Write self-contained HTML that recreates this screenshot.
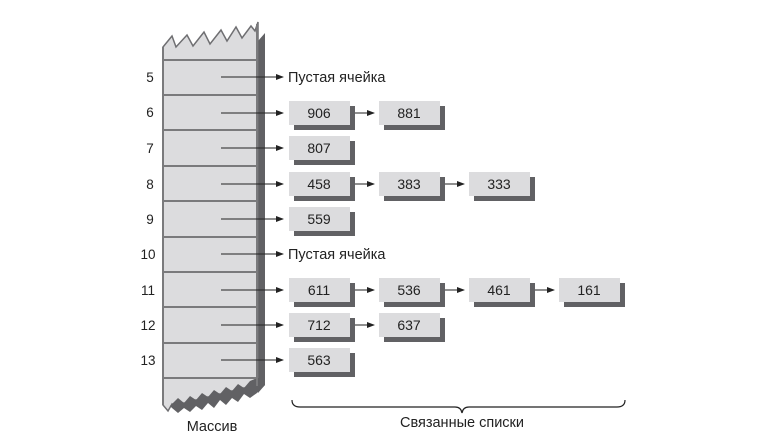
<!DOCTYPE html>
<html><head><meta charset="utf-8"><style>
html,body{margin:0;padding:0;background:#fff;}
svg{display:block;}
text{font-family:"Liberation Sans",sans-serif;fill:#222;}
</style></head><body>
<svg width="771" height="442" viewBox="0 0 771 442" xmlns="http://www.w3.org/2000/svg">
<defs>
<marker id="ah" markerWidth="8" markerHeight="8" refX="7" refY="4" orient="auto" markerUnits="userSpaceOnUse">
<path d="M0,1 L8,4 L0,7 Z" fill="#222"/>
</marker>
</defs>
<polygon points="258,41 265,33 265,385 258,393" fill="#616164"/>
<polygon points="163,47 172,36 176,47 187,35 193,46 204,32 210,44 221,30 227,41 236,27 242,38 251,26 255,31 258,22 258,386 250,393 244,388 238,396 232,391 226,399 220,394 214,402 208,397 202,405 196,400 190,408 184,403 178,410 172,404 168,411 163,405" fill="#dcdcde" stroke="#6f6f72" stroke-width="1.5"/>
<polygon points="170,406 178,398 184,403 190,396 196,400 202,393 208,397 214,390 220,394 226,387 232,391 238,384 244,388 250,381 257,378 265,378 265,385 257,393 250,398 244,394 238,402 232,398 226,405 220,400 214,408 208,403 202,410 196,406 190,412 184,408 178,413 172,408" fill="#616164"/>
<g stroke="#7a7a7c" stroke-width="2">
<line x1="163" y1="47" x2="163" y2="405"/>
<line x1="257" y1="24" x2="257" y2="386"/>
<line x1="163" y1="60" x2="257" y2="60"/>
<line x1="163" y1="95" x2="257" y2="95"/>
<line x1="163" y1="130" x2="257" y2="130"/>
<line x1="163" y1="166" x2="257" y2="166"/>
<line x1="163" y1="201" x2="257" y2="201"/>
<line x1="163" y1="237" x2="257" y2="237"/>
<line x1="163" y1="272" x2="257" y2="272"/>
<line x1="163" y1="307" x2="257" y2="307"/>
<line x1="163" y1="343" x2="257" y2="343"/>
<line x1="163" y1="378" x2="257" y2="378"/>
</g>
<g font-size="13.5" text-anchor="middle">
<text x="150" y="82">5</text><text x="150" y="117">6</text><text x="150" y="153">7</text>
<text x="150" y="189">8</text><text x="150" y="224">9</text><text x="148" y="259">10</text>
<text x="148" y="295">11</text><text x="148" y="330">12</text><text x="148" y="365">13</text>
</g>
<g stroke="#222" stroke-width="1" marker-end="url(#ah)">
<line x1="221" y1="77" x2="283" y2="77"/>
<line x1="221" y1="113" x2="283" y2="113"/>
<line x1="221" y1="148" x2="283" y2="148"/>
<line x1="221" y1="184" x2="283" y2="184"/>
<line x1="221" y1="219" x2="283" y2="219"/>
<line x1="221" y1="254" x2="283" y2="254"/>
<line x1="221" y1="290" x2="283" y2="290"/>
<line x1="221" y1="325" x2="283" y2="325"/>
<line x1="221" y1="360" x2="283" y2="360"/>
<line x1="350" y1="113" x2="374" y2="113"/>
<line x1="350" y1="184" x2="374" y2="184"/>
<line x1="440" y1="184" x2="464" y2="184"/>
<line x1="350" y1="290" x2="374" y2="290"/>
<line x1="440" y1="290" x2="464" y2="290"/>
<line x1="530" y1="290" x2="554" y2="290"/>
<line x1="350" y1="325" x2="374" y2="325"/>
</g>
<text x="288" y="82" font-size="14.5">Пустая ячейка</text>
<text x="288" y="259" font-size="14.5">Пустая ячейка</text>
<g font-size="14" text-anchor="middle">
<g transform="translate(289,101)"><rect x="5" y="5" width="61" height="24" fill="#616164"/><rect width="61" height="24" fill="#dcdcde"/><text x="30" y="17">906</text></g>
<g transform="translate(379,101)"><rect x="5" y="5" width="61" height="24" fill="#616164"/><rect width="61" height="24" fill="#dcdcde"/><text x="30" y="17">881</text></g>
<g transform="translate(289,136)"><rect x="5" y="5" width="61" height="24" fill="#616164"/><rect width="61" height="24" fill="#dcdcde"/><text x="30" y="17">807</text></g>
<g transform="translate(289,172)"><rect x="5" y="5" width="61" height="24" fill="#616164"/><rect width="61" height="24" fill="#dcdcde"/><text x="30" y="17">458</text></g>
<g transform="translate(379,172)"><rect x="5" y="5" width="61" height="24" fill="#616164"/><rect width="61" height="24" fill="#dcdcde"/><text x="30" y="17">383</text></g>
<g transform="translate(469,172)"><rect x="5" y="5" width="61" height="24" fill="#616164"/><rect width="61" height="24" fill="#dcdcde"/><text x="30" y="17">333</text></g>
<g transform="translate(289,207)"><rect x="5" y="5" width="61" height="24" fill="#616164"/><rect width="61" height="24" fill="#dcdcde"/><text x="30" y="17">559</text></g>
<g transform="translate(289,278)"><rect x="5" y="5" width="61" height="24" fill="#616164"/><rect width="61" height="24" fill="#dcdcde"/><text x="30" y="17">611</text></g>
<g transform="translate(379,278)"><rect x="5" y="5" width="61" height="24" fill="#616164"/><rect width="61" height="24" fill="#dcdcde"/><text x="30" y="17">536</text></g>
<g transform="translate(469,278)"><rect x="5" y="5" width="61" height="24" fill="#616164"/><rect width="61" height="24" fill="#dcdcde"/><text x="30" y="17">461</text></g>
<g transform="translate(559,278)"><rect x="5" y="5" width="61" height="24" fill="#616164"/><rect width="61" height="24" fill="#dcdcde"/><text x="30" y="17">161</text></g>
<g transform="translate(289,313)"><rect x="5" y="5" width="61" height="24" fill="#616164"/><rect width="61" height="24" fill="#dcdcde"/><text x="30" y="17">712</text></g>
<g transform="translate(379,313)"><rect x="5" y="5" width="61" height="24" fill="#616164"/><rect width="61" height="24" fill="#dcdcde"/><text x="30" y="17">637</text></g>
<g transform="translate(289,348)"><rect x="5" y="5" width="61" height="24" fill="#616164"/><rect width="61" height="24" fill="#dcdcde"/><text x="30" y="17">563</text></g>
</g>
<path d="M292,400 Q292,407 300,407 L455,407 Q461,407 462,413 Q463,407 469,407 L617,407 Q625,407 625,400" fill="none" stroke="#222" stroke-width="1.2"/>
<text x="462" y="427" font-size="14.5" text-anchor="middle">Связанные списки</text>
<text x="212" y="431" font-size="14.5" text-anchor="middle">Массив</text>
</svg>
</body></html>
